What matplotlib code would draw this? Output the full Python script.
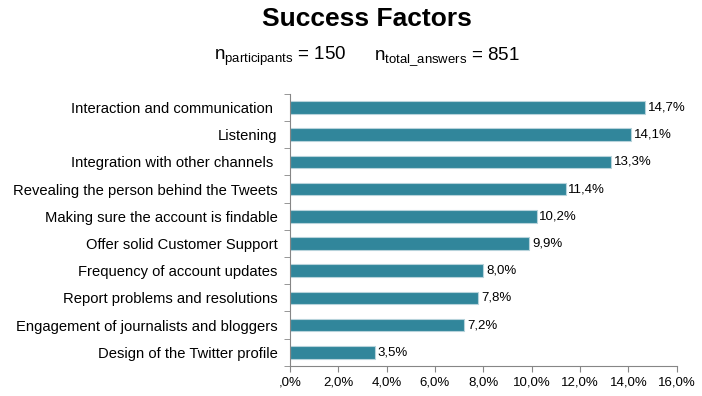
import matplotlib.pyplot as plt
import numpy as np

plt.rcParams["font.family"] = ["Liberation Sans", "DejaVu Sans"]
plt.rcParams["mathtext.fontset"] = "custom"
plt.rcParams["mathtext.rm"] = "Liberation Sans"

factors = [
    "Interaction and communication ",
    "Listening",
    "Integration with other channels ",
    "Revealing the person behind the Tweets",
    "Making sure the account is findable",
    "Offer solid Customer Support",
    "Frequency of account updates",
    "Report problems and resolutions",
    "Engagement of journalists and bloggers",
    "Design of the Twitter profile",
]
shares = [14.7, 14.1, 13.3, 11.4, 10.2, 9.9, 8.0, 7.8, 7.2, 3.5]
xticks = [0, 2, 4, 6, 8, 10, 12, 14, 16]
xtick_labels = [",0%", "2,0%", "4,0%", "6,0%", "8,0%", "10,0%", "12,0%", "14,0%", "16,0%"]

fig = plt.figure(figsize=(7.02, 3.96), dpi=100)
ax = fig.add_axes([0.413, 0.076, 0.551, 0.687])

y = np.arange(len(factors))
ax.barh(y, shares, height=0.46, color="#31869B", edgecolor="#B7D3DB", linewidth=0.8)
ax.set_ylim(len(factors) - 0.5, -0.5)
ax.set_xlim(0, 16)

ax.set_yticks(y)
ax.set_yticklabels(factors, fontsize=10.6)
ax.set_yticks(np.arange(-0.5, len(factors)), minor=True)
ax.tick_params(axis="y", which="major", length=0, pad=9)
ax.tick_params(axis="y", which="minor", length=4, color="#868686")

ax.set_xticks(xticks)
ax.set_xticklabels(xtick_labels, fontsize=9.5)
ax.tick_params(axis="x", length=4, color="#868686")

for spine in ["top", "right"]:
    ax.spines[spine].set_visible(False)
for spine in ["left", "bottom"]:
    ax.spines[spine].set_color("#868686")

for yi, v in zip(y, shares):
    ax.text(v + 0.12, yi, f"{v:.1f}%".replace(".", ","), va="center", ha="left", fontsize=9.5)

fig.text(0.523, 0.953, "Success Factors", ha="center", va="center", fontsize=19, fontweight="bold",
         family=["Liberation Sans Narrow", "Liberation Sans"])
fig.text(0.399, 0.857, r"$\mathrm{n_{participants}}$ = 150", ha="center", va="center", fontsize=13.5)
fig.text(0.637, 0.857, r"$\mathrm{n_{total\_answers}}$ = 851", ha="center", va="center", fontsize=13.5)

fig.savefig("out.png", dpi=100)
